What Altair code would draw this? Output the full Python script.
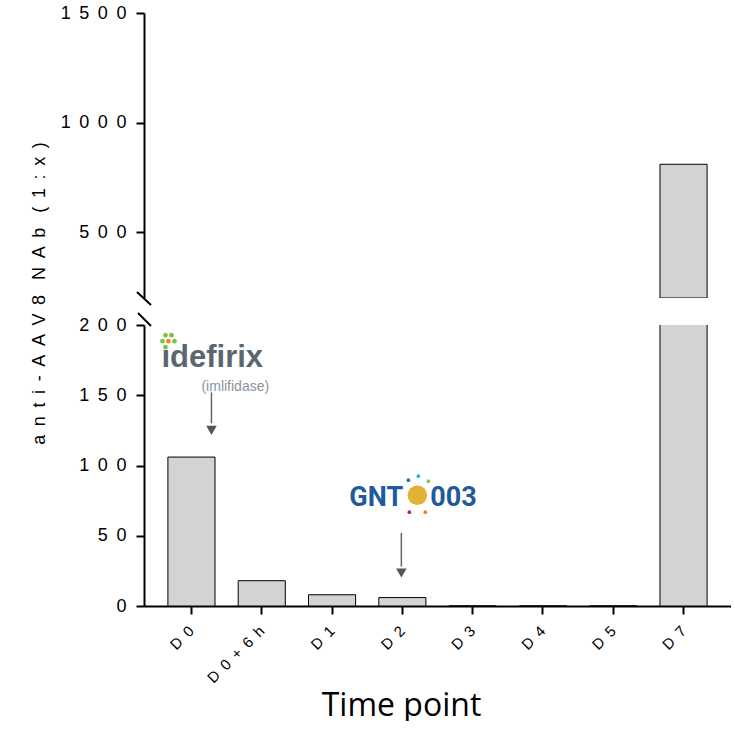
import altair as alt
import pandas as pd

# ---- data ----
categories = ["D0", "D0+6h", "D1", "D2", "D3", "D4", "D5", "D7"]
titers = [106, 18, 8, 6, 0, 0, 0, 810]
upper_ticks = [500, 1000, 1500]
lower_ticks = [0, 50, 100, 150, 200]
upper_domain = [200, 1500]
lower_domain = [0, 200]

y_title_words = ["anti-AAV8", "NAb", "(1:x)"]
x_title = "Time point"

df = pd.DataFrame({"tp": categories, "v": titers})

FONT = "Liberation Sans"
GAP = "\u00a0\u2009"
NB = "\u00a0"
y_title = (NB * 3).join(GAP.join(w) for w in y_title_words)
W = 587
H_UP = 285
H_LO = 281

xscale = alt.Scale(paddingInner=0.33, paddingOuter=0.34)
bar_style = dict(color="#d3d3d3", stroke="black", strokeWidth=1, clip=True)

def y_axis(values, **kw):
    return alt.Axis(
        values=values, format="d",
        labelExpr=f"join(split(datum.label, ''), '{GAP}')",
        labelFont=FONT, labelFontSize=18, labelColor="black", labelPadding=10,
        tickSize=8, tickWidth=2, tickColor="black",
        domainWidth=2, domainColor="black", grid=False, **kw)

# ---- upper panel ----
upper_bars = alt.Chart(df).transform_filter("datum.v > 200").mark_bar(**bar_style).encode(
    x=alt.X("tp:N", sort=categories, scale=xscale, axis=None),
    y=alt.Y("v:Q", stack=None,
            scale=alt.Scale(domain=upper_domain, nice=False, zero=False),
            axis=y_axis(upper_ticks, title=None)),
)
upper_slash = alt.Chart(df).transform_filter("datum.tp == 'D0'").mark_rule(
    color="black", strokeWidth=2).encode(
    x=alt.value(-7), x2=alt.value(7), y=alt.value(H_UP - 6), y2=alt.value(H_UP + 7))
upper = alt.layer(upper_bars, upper_slash).properties(width=W, height=H_UP)

# ---- lower panel ----
lower_bars = alt.Chart(df).mark_bar(**bar_style).encode(
    x=alt.X("tp:N", sort=categories, scale=xscale,
            axis=alt.Axis(labelAngle=-45, labelAlign="right", labelBaseline="middle",
                          labelExpr=f"join(split(datum.label, ''), '{GAP}')",
                          labelFont=FONT, labelFontSize=15, labelColor="black",
                          labelPadding=14, tickSize=8, tickWidth=2, tickColor="black",
                          domainWidth=2, domainColor="black",
                          title=x_title, titleFont="Open Sans", titleFontSize=32,
                          titleFontWeight="normal", titleColor="black",
                          titleX=257, titleY=109, titleBaseline="alphabetic")),
    y=alt.Y("v:Q", stack=None,
            scale=alt.Scale(domain=lower_domain, nice=False),
            axis=y_axis(lower_ticks, title=y_title, titleFont=FONT, titleFontSize=18,
                        titleFontWeight="normal", titleColor="black", titlePadding=30,
                        titleY=-32)),
)

lower_slash = alt.Chart(df).transform_filter("datum.tp == 'D0'").mark_rule(
    color="black", strokeWidth=2).encode(
    x=alt.value(-6), x2=alt.value(7), y=alt.value(-12), y2=alt.value(1))

# annotation anchors (category, value)
ann_idef = pd.DataFrame({"tp": ["D0"], "base": [170], "sub": [153],
                         "a1": [152], "a2": [130], "head": [125]})
ann_gnt = pd.DataFrame({"tp": ["D2"], "base": [71],
                        "a1": [52], "a2": [28], "head": [23.5]})

def xa():
    return alt.X("tp:N", sort=categories, scale=xscale)

layers = [lower_bars, lower_slash]

# idefirix logo
layers.append(alt.Chart(ann_idef).mark_text(
    text="\u0131defirix", align="left", baseline="alphabetic", dx=-30,
    font=FONT, fontWeight="bold", fontSize=31, color="#5b6670").encode(
    x=xa(), y=alt.Y("base:Q")))
layers.append(alt.Chart(ann_idef).mark_text(
    text="(imlifidase)", align="left", baseline="alphabetic", dx=10,
    font=FONT, fontSize=14, color="#8c949b").encode(x=xa(), y=alt.Y("sub:Q")))
clover = [(-26, -32, "#7cc242"), (-20, -32, "#7cc242"),
          (-29, -26, "#7cc242"), (-23, -26, "#f08a1c"), (-17, -26, "#7cc242"),
          (-26, -20, "#7cc242")]
for dx, dy, c in clover:
    layers.append(alt.Chart(ann_idef).mark_circle(
        size=22, opacity=1, color=c, xOffset=dx, yOffset=dy).encode(
        x=xa(), y=alt.Y("base:Q")))
layers.append(alt.Chart(ann_idef).mark_rule(color="#666666", strokeWidth=1.5, xOffset=20).encode(
    x=xa(), y=alt.Y("a1:Q"), y2="a2:Q"))
layers.append(alt.Chart(ann_idef).mark_point(
    shape="triangle-down", filled=True, size=110, opacity=1, color="#555555", xOffset=20).encode(
    x=xa(), y=alt.Y("head:Q")))

# GNT003 logo
layers.append(alt.Chart(ann_gnt).mark_text(
    text="GNT", align="left", baseline="alphabetic", dx=-53,
    font="Roboto", fontWeight="bold", fontSize=27, color="#1f5b9a").encode(
    x=xa(), y=alt.Y("base:Q")))
layers.append(alt.Chart(ann_gnt).mark_text(
    text="003", align="left", baseline="alphabetic", dx=28,
    font="Roboto", fontWeight="bold", fontSize=27, color="#1f5b9a").encode(
    x=xa(), y=alt.Y("base:Q")))
layers.append(alt.Chart(ann_gnt).mark_circle(
    size=380, opacity=1, color="#e2b236", xOffset=15, yOffset=-11).encode(
    x=xa(), y=alt.Y("base:Q")))
rays = [(6, -26, "#1b7a8a"), (16, -30, "#29b6d6"), (26, -25, "#8cc63f"),
        (7, 6, "#b0227a"), (23, 6, "#f07a22")]
for dx, dy, c in rays:
    layers.append(alt.Chart(ann_gnt).mark_circle(
        size=14, opacity=1, color=c, xOffset=dx, yOffset=dy).encode(
        x=xa(), y=alt.Y("base:Q")))
layers.append(alt.Chart(ann_gnt).mark_rule(color="#666666", strokeWidth=1.5, xOffset=-1).encode(
    x=xa(), y=alt.Y("a1:Q"), y2="a2:Q"))
layers.append(alt.Chart(ann_gnt).mark_point(
    shape="triangle-down", filled=True, size=110, opacity=1, color="#555555", xOffset=-1).encode(
    x=xa(), y=alt.Y("head:Q")))

lower = alt.layer(*layers).properties(width=W, height=H_LO)

chart = alt.vconcat(upper, lower, spacing=27, bounds="flush").properties(
    padding={"left": 30, "top": 4, "right": 0, "bottom": 0}
).configure_view(stroke=None).resolve_scale(x="shared")

chart.save("out.html", embed_options={"renderer": "svg", "actions": False})
